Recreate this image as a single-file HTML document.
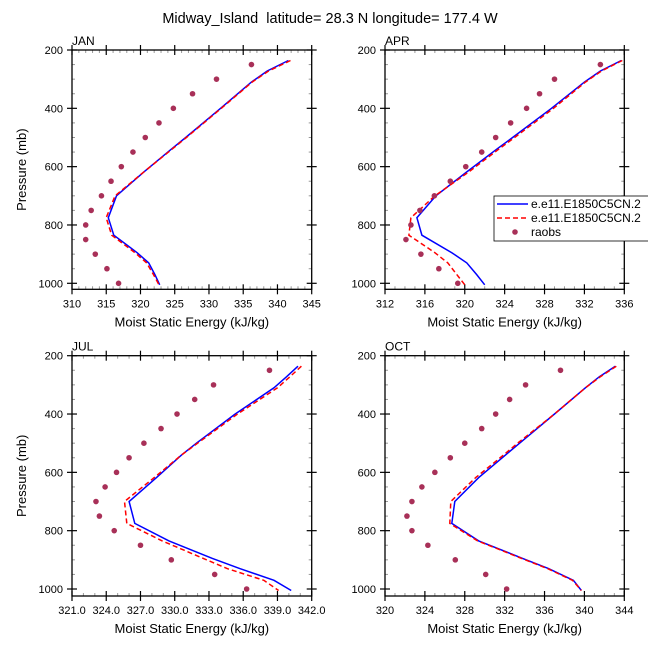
<!DOCTYPE html>
<html><head><meta charset="utf-8"><style>
body{margin:0;background:#fff;}
svg text{font-family:"Liberation Sans",sans-serif;fill:#000;}
</style></head><body>
<svg id="c" width="648" height="648" viewBox="0 0 648 648" xmlns="http://www.w3.org/2000/svg">
<text x="330" y="23" font-size="14.5" text-anchor="middle">Midway_Island&#160; latitude= 28.3 N longitude= 177.4 W</text>
</svg>
<script>
const modelLevels=[236,272,310,400,500,540,618,700,775,835,895,930,970,1005];
const obsLevels=[250,300,350,400,450,500,550,600,650,700,750,800,850,900,950,1000];
const panelNames=["JAN","APR","JUL","OCT"];
const janBlue=[341.6,338.5,336.2,331.7,326.6,324.5,320.5,316.5,315.3,316.1,319.5,321.2,322.1,322.8];
const janRed=[341.9,338.7,336.3,331.8,326.7,324.6,320.5,316.3,315.0,315.8,319.2,320.9,321.9,322.7];
const janObs=[336.2,331.1,327.6,324.8,322.7,320.7,318.9,317.2,315.7,314.3,312.8,312.0,312.0,313.4,315.1,316.8];
const aprBlue=[335.7,333.6,332.0,328.7,324.8,323.2,320.2,317.1,315.2,315.7,318.7,320.2,321.2,322.0];
const aprRed=[335.8,333.7,332.1,328.9,325.0,323.4,320.4,317.0,314.6,314.4,317.0,318.3,319.2,320.0];
const aprObs=[333.6,329.0,327.5,326.2,324.6,323.1,321.7,320.1,318.55,316.95,315.5,314.6,314.1,315.6,317.4,319.3];
const julBlue=[340.8,339.8,338.7,335.3,331.9,330.6,328.4,326.0,326.5,329.5,333.3,335.7,338.7,340.2];
const julRed=[341.1,340.1,339.0,335.5,332.0,330.6,328.2,325.6,325.8,328.9,332.5,334.6,337.8,339.1];
const julObs=[338.3,333.4,331.75,330.2,328.8,327.3,326.0,324.9,323.9,323.1,323.4,324.7,327.0,329.7,333.5,336.3];
const octBlue=[343.1,341.5,340.1,337.0,333.5,332.1,329.4,327.0,326.7,329.4,333.8,336.4,338.9,339.7];
const octRed=[343.2,341.6,340.1,337.0,333.3,331.9,329.1,326.6,326.5,329.3,333.7,336.3,338.8,339.7];
const octObs=[337.6,334.1,332.5,331.1,329.7,328.0,326.55,325.0,323.7,322.7,322.2,322.7,324.3,327.05,330.1,332.2];
const xMins=[310,312,321,320], xMaxs=[345,336,342,344], xSteps=[5,4,3,4];
const xDecimals=[0,0,1,0];
const yTicks=[200,400,600,800,1000];

const panels=[
 {x0:72,x1:311.7,y0:50,yb:283.3,bot:289.3,blue:janBlue,red:janRed,obs:janObs},
 {x0:385,x1:624.3,y0:50,yb:283.3,bot:289.3,blue:aprBlue,red:aprRed,obs:aprObs},
 {x0:72,x1:311.7,y0:355.7,yb:589,bot:596,blue:julBlue,red:julRed,obs:julObs},
 {x0:385,x1:624.3,y0:355.7,yb:589,bot:596,blue:octBlue,red:octRed,obs:octObs}
];
const svg=document.getElementById('c');
const NS='http://www.w3.org/2000/svg';
function mk(tag,attrs,parent){const e=document.createElementNS(NS,tag);for(const k in attrs)e.setAttribute(k,attrs[k]);(parent||svg).appendChild(e);return e;}

panels.forEach((P,i)=>{
 const xmin=xMins[i],xmax=xMaxs[i];
 const X=v=>P.x0+(v-xmin)/(xmax-xmin)*(P.x1-P.x0);
 const Y=p=>P.y0+(p-200)/800*(P.yb-P.y0);
 const g=mk('g',{});
 
 
 for(let p=250;p<=1000;p+=50){if(p%200===0)continue;const y=Y(p);
  mk('line',{x1:P.x0,x2:P.x0+3,y1:y,y2:y,stroke:'#999','stroke-width':1},g);
  mk('line',{x1:P.x1,x2:P.x1-3,y1:y,y2:y,stroke:'#999','stroke-width':1},g);}
 for(let v=xmin+1;v<xmax;v+=1){if((v-xmin)%xSteps[i]===0)continue;const x=X(v);
  mk('line',{x1:x,x2:x,y1:P.bot,y2:P.bot-3,stroke:'#999','stroke-width':1},g);
  mk('line',{x1:x,x2:x,y1:P.y0,y2:P.y0+3,stroke:'#999','stroke-width':1},g);}
 yTicks.forEach(p=>{const y=Y(p);
  mk('line',{x1:P.x0-5,x2:P.x0+5,y1:y,y2:y,stroke:'#000','stroke-width':1.2},g);
  mk('line',{x1:P.x1-5,x2:P.x1+5,y1:y,y2:y,stroke:'#000','stroke-width':1.2},g);
  const t=mk('text',{x:P.x0-9,y:y+4,'font-size':11,'text-anchor':'end'},g);t.textContent=p;
  
  });
 for(let v=xmin;v<=xmax+1e-6;v+=xSteps[i]){const x=X(v);
  mk('line',{x1:x,x2:x,y1:P.bot-5,y2:P.bot+5,stroke:'#000','stroke-width':1.2},g);
  mk('line',{x1:x,x2:x,y1:P.y0-5,y2:P.y0+5,stroke:'#000','stroke-width':1.2},g);
  const t=mk('text',{x:x,y:P.bot+18,'font-size':11,'text-anchor':'middle'},g);t.textContent=v.toFixed(xDecimals[i]);
  
  }
 const fr=mk('rect',{x:P.x0,y:P.y0,width:P.x1-P.x0,height:P.bot-P.y0,fill:'none',stroke:'#000','stroke-width':1.3},g);
 
 
 const pt=mk('text',{x:P.x0,y:P.y0-5,'font-size':12},g);pt.textContent=panelNames[i];
 
 
 const xt=mk('text',{x:(P.x0+P.x1)/2,y:P.bot+37,'font-size':13,'text-anchor':'middle'},g);xt.textContent='Moist Static Energy (kJ/kg)';
 
 
 if(i%2===0){const cy=(P.y0+P.bot)/2;
  const yt=mk('text',{x:26,y:cy,'font-size':13,'text-anchor':'middle',transform:`rotate(-90 26 ${cy})`},g);yt.textContent='Pressure (mb)';
  
  }
 const pts=a=>a.map((v,k)=>X(v).toFixed(1)+','+Y(modelLevels[k]).toFixed(1)).join(' ');
 const bl=mk('polyline',{points:pts(P.blue),fill:'none',stroke:'#0000ff','stroke-width':1.5},g);
 
 
 const rl=mk('polyline',{points:pts(P.red),fill:'none',stroke:'#ff0000','stroke-width':1.5,'stroke-dasharray':'5,3'},g);
 
 
 P.obs.forEach((v,k)=>{const c=mk('circle',{cx:X(v),cy:Y(obsLevels[k]),r:2.8,fill:'#a83058'},g);
  
  });
});
const lg=mk('g',{});


mk('rect',{x:494,y:196,width:170,height:45,fill:'#fff',stroke:'#000','stroke-width':0.8},lg);
mk('line',{x1:497,x2:528,y1:204,y2:204,stroke:'#0000ff','stroke-width':1.5},lg);
mk('line',{x1:497,x2:528,y1:218,y2:218,stroke:'#ff0000','stroke-width':1.5,'stroke-dasharray':'5,3'},lg);
mk('circle',{cx:515,cy:232,r:2.8,fill:'#a83058'},lg);
[['e.e11.E1850C5CN.2',208],['e.e11.E1850C5CN.2',222],['raobs',236]].forEach(a=>{
 const t=mk('text',{x:531,y:a[1],'font-size':12},lg);t.textContent=a[0];
 
 });
</script>
</body></html>
